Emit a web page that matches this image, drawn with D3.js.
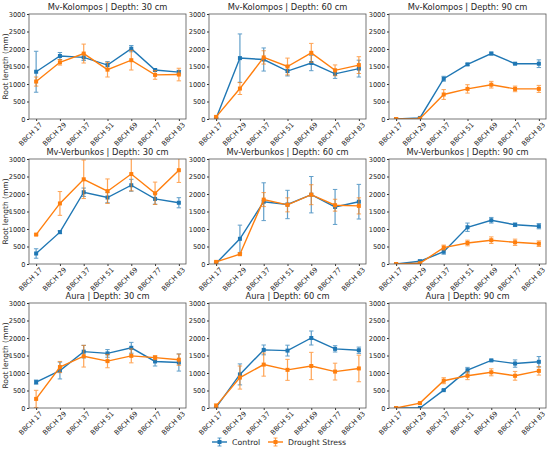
<!DOCTYPE html>
<html>
<head>
<meta charset="utf-8">
<script src="https://cdn.jsdelivr.net/npm/d3@7"></script>
<style>
  body { margin: 0; background: #fff; }
  text { font-family: "DejaVu Sans", sans-serif; fill: #262626; }
</style>
</head>
<body>
<div id="chart"></div>
<script>
// growth stages on the x axis
const stages = ['BBCH 17', 'BBCH 29', 'BBCH 37', 'BBCH 51', 'BBCH 69', 'BBCH 77', 'BBCH 83']
const yTicks = [0, 500, 1000, 1500, 2000, 2500, 3000]

// Mv-Kolompos
const kol30Control = [1350, 1800, 1760, 1540, 2010, 1400, 1340]
const kol30ControlErr = [585, 100, 90, 100, 90, 30, 50]
const kol30Drought = [1070, 1620, 1870, 1410, 1680, 1260, 1270]
const kol30DroughtErr = [130, 80, 270, 210, 280, 125, 180]

const kol60Control = [20, 1740, 1700, 1370, 1600, 1290, 1440]
const kol60ControlErr = [20, 690, 330, 140, 220, 130, 240]
const kol60Drought = [60, 870, 1760, 1500, 1890, 1390, 1540]
const kol60DroughtErr = [30, 170, 190, 240, 270, 155, 240]

const kol90Control = [0, 30, 1150, 1560, 1870, 1580, 1580]
const kol90ControlErr = [5, 15, 70, 30, 40, 20, 110]
const kol90Drought = [0, 10, 700, 860, 980, 860, 860]
const kol90DroughtErr = [5, 10, 140, 120, 95, 80, 100]

// Mv-Verbunkos
const ver30Control = [300, 910, 2050, 1900, 2250, 1860, 1750]
const ver30ControlErr = [135, 40, 120, 150, 170, 150, 145]
const ver30Drought = [840, 1730, 2420, 2080, 2570, 2020, 2680]
const ver30DroughtErr = [20, 340, 550, 350, 480, 320, 350]

const ver60Control = [20, 720, 1780, 1700, 1980, 1630, 1780]
const ver60ControlErr = [20, 390, 540, 405, 520, 500, 495]
const ver60Drought = [60, 280, 1840, 1690, 1980, 1680, 1660]
const ver60DroughtErr = [20, 20, 200, 200, 285, 170, 230]

const ver90Control = [0, 80, 350, 1050, 1250, 1120, 1080]
const ver90ControlErr = [5, 30, 70, 120, 80, 50, 75]
const ver90Drought = [0, 20, 470, 600, 680, 620, 580]
const ver90DroughtErr = [5, 10, 70, 80, 95, 90, 80]

// Aura
const aur30Control = [740, 1070, 1610, 1560, 1720, 1330, 1300]
const aur30ControlErr = [60, 240, 180, 110, 155, 130, 245]
const aur30Drought = [260, 1170, 1480, 1340, 1490, 1440, 1380]
const aur30DroughtErr = [245, 160, 310, 190, 200, 60, 160]

const aur60Control = [20, 960, 1660, 1640, 2000, 1690, 1650]
const aur60ControlErr = [20, 300, 140, 155, 200, 90, 90]
const aur60Drought = [60, 870, 1240, 1090, 1200, 1040, 1130]
const aur60DroughtErr = [60, 330, 330, 300, 390, 240, 380]

const aur90Control = [0, 0, 510, 1080, 1360, 1270, 1320]
const aur90ControlErr = [5, 5, 20, 80, 30, 105, 150]
const aur90Drought = [0, 140, 780, 920, 1020, 920, 1060]
const aur90DroughtErr = [5, 20, 85, 110, 100, 125, 120]

const panels = [
  ['Mv-Kolompos', 30, kol30Control, kol30ControlErr, kol30Drought, kol30DroughtErr],
  ['Mv-Kolompos', 60, kol60Control, kol60ControlErr, kol60Drought, kol60DroughtErr],
  ['Mv-Kolompos', 90, kol90Control, kol90ControlErr, kol90Drought, kol90DroughtErr],
  ['Mv-Verbunkos', 30, ver30Control, ver30ControlErr, ver30Drought, ver30DroughtErr],
  ['Mv-Verbunkos', 60, ver60Control, ver60ControlErr, ver60Drought, ver60DroughtErr],
  ['Mv-Verbunkos', 90, ver90Control, ver90ControlErr, ver90Drought, ver90DroughtErr],
  ['Aura', 30, aur30Control, aur30ControlErr, aur30Drought, aur30DroughtErr],
  ['Aura', 60, aur60Control, aur60ControlErr, aur60Drought, aur60DroughtErr],
  ['Aura', 90, aur90Control, aur90ControlErr, aur90Drought, aur90DroughtErr]
]

const width = 550
const height = 451
const colLeft = [29, 209, 389]
const rowTop = [14, 159, 303]
const pw = 157
const ph = 105
const blue = '#1f77b4'
const orange = '#ff7f0e'

const svg = d3.select('#chart')
  .append('svg')
  .attr('width', width)
  .attr('height', height)

const x = d3.scalePoint().domain(stages).range([0, pw]).padding(0.3)
const y = d3.scaleLinear().domain([0, 3000]).range([ph, 0])

const defs = svg.append('defs')
defs.append('clipPath').attr('id', 'clip')
  .append('rect').attr('width', pw).attr('height', ph)

function drawSeries (g, means, errs, color) {
  const pts = stages.map((s, i) => ({s, m: means[i], e: errs[i]}))
  const eb = g.append('g').attr('opacity', 0.7)
  pts.forEach(d => {
    const cx = x(d.s)
    eb.append('line')
      .attr('x1', cx).attr('x2', cx)
      .attr('y1', y(d.m - d.e)).attr('y2', y(d.m + d.e))
      .attr('stroke', color).attr('stroke-width', 1.2)
    ;[d.m - d.e, d.m + d.e].forEach(v => {
      eb.append('line')
        .attr('x1', cx - 2.2).attr('x2', cx + 2.2)
        .attr('y1', y(v)).attr('y2', y(v))
        .attr('stroke', color).attr('stroke-width', 1)
    })
  })
  g.append('path')
    .attr('d', d3.line().x(d => x(d.s)).y(d => y(d.m))(pts))
    .attr('fill', 'none')
    .attr('stroke', color)
    .attr('stroke-width', 1.4)
  g.selectAll(null).data(pts).enter().append('rect')
    .attr('x', d => x(d.s) - 2)
    .attr('y', d => y(d.m) - 2)
    .attr('width', 4).attr('height', 4)
    .attr('fill', color)
}

panels.forEach((p, i) => {
  const [variety, depth, cMean, cErr, dMean, dErr] = p
  const col = i % 3
  const row = Math.floor(i / 3)
  const g = svg.append('g')
    .attr('transform', `translate(${colLeft[col]}, ${rowTop[row]})`)

  // y axis
  const ya = g.append('g')
    .call(d3.axisLeft(y).tickValues(yTicks).tickFormat(d => String(d)).tickSize(2).tickPadding(1.5))
  ya.select('.domain').remove()
  ya.selectAll('line').attr('stroke', '#333')
  ya.selectAll('text').style('font-size', '6.6px').style('fill', '#262626')

  // x axis
  const xa = g.append('g')
    .attr('transform', `translate(0, ${ph})`)
    .call(d3.axisBottom(x).tickSize(2).tickPadding(2))
  xa.select('.domain').remove()
  xa.selectAll('line').attr('stroke', '#333')
  xa.selectAll('text')
    .style('font-size', '6.8px')
    .style('fill', '#262626')
    .attr('text-anchor', 'end')
    .attr('dy', '0.3em')
    .attr('transform', 'translate(2, 2) rotate(-45)')

  const plot = g.append('g').attr('clip-path', 'url(#clip)')
  drawSeries(plot, cMean, cErr, blue)
  drawSeries(plot, dMean, dErr, orange)

  g.append('rect')
    .attr('width', pw).attr('height', ph)
    .attr('fill', 'none')
    .attr('stroke', '#555')
    .attr('stroke-width', 0.8)

  g.append('text')
    .attr('x', pw / 2).attr('y', -4)
    .attr('text-anchor', 'middle')
    .style('font-size', '8.3px')
    .text(`${variety} | Depth: ${depth} cm`)

  if (col === 0) {
    g.append('text')
      .attr('transform', `translate(-21, ${ph / 2}) rotate(-90)`)
      .attr('text-anchor', 'middle')
      .style('font-size', '7.5px')
      .text('Root length (mm)')
  }
})

// legend
const legend = svg.append('g').attr('transform', 'translate(212, 442)')
const items = [['Control', blue, 0], ['Drought Stress', orange, 56]]
items.forEach(([label, color, dx]) => {
  const lg = legend.append('g').attr('transform', `translate(${dx}, 0)`)
  lg.append('line').attr('x1', 0).attr('x2', 15).attr('y1', 0).attr('y2', 0)
    .attr('stroke', color).attr('stroke-width', 1.4)
  lg.append('line').attr('x1', 7.5).attr('x2', 7.5).attr('y1', -4).attr('y2', 4)
    .attr('stroke', color).attr('stroke-width', 1.2).attr('opacity', 0.7)
  lg.append('line').attr('x1', 5.5).attr('x2', 9.5).attr('y1', -4).attr('y2', -4)
    .attr('stroke', color).attr('opacity', 0.7)
  lg.append('line').attr('x1', 5.5).attr('x2', 9.5).attr('y1', 4).attr('y2', 4)
    .attr('stroke', color).attr('opacity', 0.7)
  lg.append('rect').attr('x', 5.5).attr('y', -2).attr('width', 4).attr('height', 4)
    .attr('fill', color)
  lg.append('text').attr('x', 20).attr('y', 3)
    .style('font-size', '7.8px')
    .text(label)
})
</script>
</body>
</html>
